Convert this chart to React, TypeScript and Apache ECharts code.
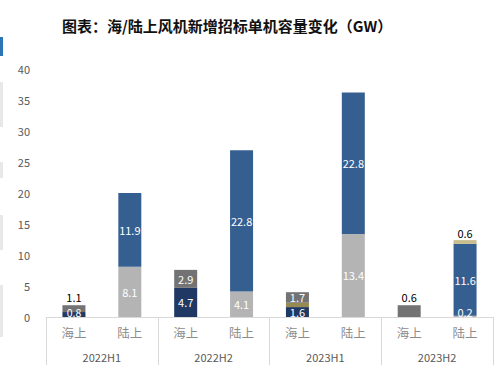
import React, { useEffect, useRef } from "react";
import * as echarts from "echarts";

const categories = ["海上", "陆上", "海上", "陆上", "海上", "陆上", "海上", "陆上"];
const groups = ["2022H1", "2022H2", "2023H1", "2023H2"];
const yTicks = { min: 0, max: 40, interval: 5 };

// offshore segments
const offNavy = [0.8, null, 4.7, null, 1.6, null, null, null];
const offOlive = [null, null, null, null, 0.7, null, null, null];
const offGray = [1.1, null, 2.9, null, 1.7, null, 1.9, null];
const offGrayLabels = ["1.1", "", "2.9", "", "1.7", "", "0.6", ""];
// onshore segments
const onLight = [null, 8.1, null, 4.1, null, 13.4, null, 0.2];
const onBlue = [null, 11.9, null, 22.8, null, 22.8, null, 11.6];
const onTan = [null, null, null, null, null, null, null, 0.6];

const FONT = "'Noto Sans CJK SC', 'Noto Sans', sans-serif";

export default function App() {
  const ref = useRef<HTMLDivElement>(null);
  useEffect(() => {
    const chart = echarts.init(ref.current!, null, { renderer: "svg" });
    const inLabel = { show: true, position: "inside", color: "#ffffff", fontSize: 11, fontFamily: FONT };
    const outsideIdx = [0, 6];
    const option: any = {
      animation: false,
      textStyle: { fontFamily: FONT },
      title: {
        text: "图表：海/陆上风机新增招标单机容量变化（GW）",
        left: 57,
        top: 13,
        textStyle: { fontSize: 15, fontWeight: "bold", color: "#111111", fontFamily: FONT },
      },
      graphic: [
        { type: "rect", shape: { x: 0, y: 37, width: 3, height: 19 }, style: { fill: "#2e75b6" } },
        { type: "rect", shape: { x: 0, y: 82, width: 3, height: 45 }, style: { fill: "#e8e8e8" } },
        { type: "rect", shape: { x: 0, y: 162, width: 3, height: 16 }, style: { fill: "#e8e8e8" } },
        { type: "rect", shape: { x: 0, y: 215, width: 3, height: 35 }, style: { fill: "#e8e8e8" } },
        { type: "rect", shape: { x: 0, y: 285, width: 3, height: 52 }, style: { fill: "#e8e8e8" } },
      ],
      grid: { left: 46, right: 10, top: 69, bottom: 53 },
      xAxis: [
        {
          type: "category",
          data: categories,
          position: "bottom",
          axisLine: { show: true, lineStyle: { color: "#d9d9d9" } },
          axisTick: { show: false },
          axisLabel: { color: "#8c8c8c", fontSize: 12.5, margin: 9, interval: 0, fontFamily: FONT },
        },
        {
          type: "category",
          data: groups,
          position: "bottom",
          axisLine: { show: false },
          axisTick: { show: true, length: 48, interval: 0, lineStyle: { color: "#d9d9d9" } },
          axisLabel: { color: "#595959", fontSize: 11, margin: 34, interval: 0, fontFamily: FONT },
        },
      ],
      yAxis: {
        type: "value",
        min: yTicks.min,
        max: yTicks.max,
        interval: yTicks.interval,
        axisLine: { show: false },
        axisTick: { show: false },
        splitLine: { show: false },
        axisLabel: { color: "#595959", fontSize: 11, margin: 16, fontFamily: FONT },
      },
      series: [
        {
          type: "bar", stack: "s", barWidth: 23,
          data: offNavy.map((v, i) => (i === 0 ? { value: v, label: { offset: [0, -2], fontSize: 10.5 } } : v)),
          itemStyle: { color: "#1f3864" }, label: inLabel,
        },
        {
          type: "bar", stack: "s", barWidth: 23, data: offOlive,
          itemStyle: { color: "#958a52" }, label: { show: false },
        },
        {
          type: "bar", stack: "s", barWidth: 23,
          data: offGray.map((v, i) =>
            outsideIdx.includes(i)
              ? { value: v, label: { position: "top", color: "#000000", distance: 3 } }
              : v
          ),
          itemStyle: { color: "#737373" },
          label: { ...inLabel, formatter: (p: any) => offGrayLabels[p.dataIndex] },
        },
        {
          type: "bar", stack: "s", barWidth: 23,
          data: onLight.map((v, i) => (i === 7 ? { value: v, label: { offset: [0, -4] } } : v)),
          itemStyle: { color: "#b4b4b4" }, label: inLabel,
        },
        {
          type: "bar", stack: "s", barWidth: 23, data: onBlue,
          itemStyle: { color: "#365f91" }, label: inLabel,
        },
        {
          type: "bar", stack: "s", barWidth: 23, data: onTan,
          itemStyle: { color: "#c9bd8e" },
          label: { show: true, position: "top", color: "#000000", fontSize: 11, distance: 2, fontFamily: FONT },
        },
      ],
    };
    chart.setOption(option);
    return () => chart.dispose();
  }, []);
  return <div ref={ref} style={{ width: 503, height: 370, position: "absolute", left: 0, top: 0 }} />;
}
